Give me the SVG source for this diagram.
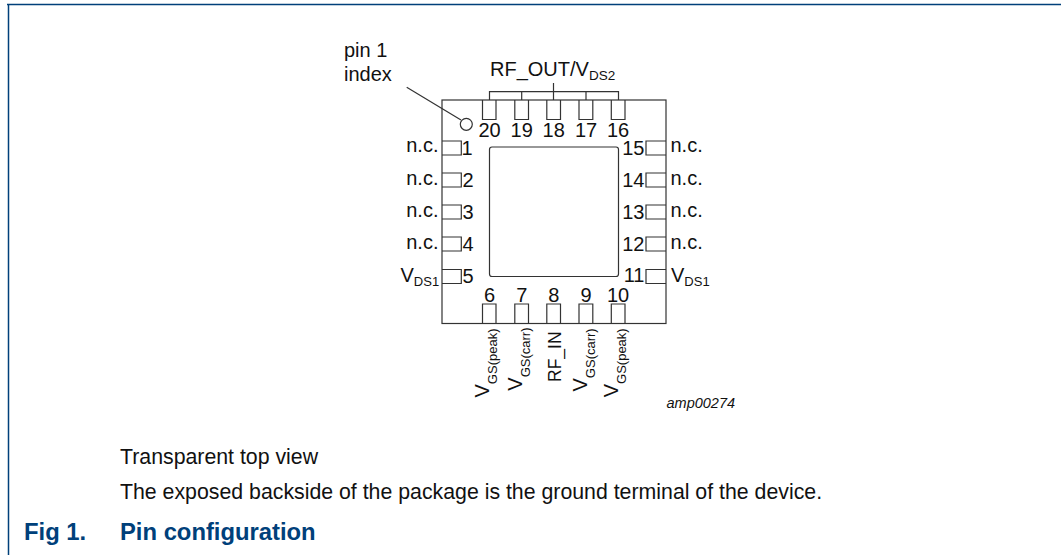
<svg xmlns="http://www.w3.org/2000/svg" width="1061" height="555" viewBox="0 0 1061 555">
<style>
text{font-family:"Liberation Sans",Arial,sans-serif;fill:#111}
.l{font-size:20px}
.s{font-size:13.500px}
.t{font-size:13px}
.m{text-anchor:middle}
.e{text-anchor:end}
.b{fill:none;stroke:#333;stroke-width:1.2}
.cap{font-size:21.300px}
.h{font-size:23.800px;font-weight:bold;fill:#00407a}
</style>
<rect width="1061" height="555" fill="#fff"/>
<path id="frame" d="M8.500 4V555M7 4.500H1061" fill="none" stroke="#00407a" stroke-width="1.500"/>
<g id="package"><rect class="b" x="442" y="100" width="224" height="223.500"/><rect class="b" x="489.500" y="147" width="129" height="129.500" rx="2.500"/><circle class="b" cx="466.300" cy="124.300" r="6"/></g>
<g id="connectors"><path class="b" d="M489.500 100V91.700H618.500V100M521.700 91.700V100M553.500 83V100M586 91.700V100M406.700 87.300L461 120"/></g>
<g id="pin20"><path class="b" d="M482.500 100V119.500H496V100"/><text class="l m" x="489.500" y="137">20</text></g>
<g id="pin19"><path class="b" d="M514.800 100V119.500H528.500V100"/><text class="l m" x="521.700" y="137">19</text></g>
<g id="pin18"><path class="b" d="M546.800 100V119.500H560.500V100"/><text class="l m" x="553.700" y="137">18</text></g>
<g id="pin17"><path class="b" d="M579 100V119.500H592.800V100"/><text class="l m" x="586" y="137">17</text></g>
<g id="pin16"><path class="b" d="M611.300 100V119.500H625V100"/><text class="l m" x="618" y="137">16</text></g>
<g id="pin1"><path class="b" d="M442 141H461.300V155H442"/><text class="l" x="461.500" y="155">1</text><text class="l e" x="438.500" y="151.700">n.c.</text></g>
<g id="pin2"><path class="b" d="M442 173H461.300V187H442"/><text class="l" x="462.500" y="187">2</text><text class="l e" x="438.500" y="185">n.c.</text></g>
<g id="pin3"><path class="b" d="M442 205H461.300V219H442"/><text class="l" x="462.500" y="219">3</text><text class="l e" x="438.500" y="217">n.c.</text></g>
<g id="pin4"><path class="b" d="M442 237H461.300V251H442"/><text class="l" x="462.500" y="251">4</text><text class="l e" x="438.500" y="249.300">n.c.</text></g>
<g id="pin5"><path class="b" d="M442 269.500H461.300V283.500H442"/><text class="l" x="462.500" y="283">5</text><text class="l" x="400.500" y="281.700">V<tspan class="t" dy="4">DS1</tspan></text></g>
<g id="pin15"><path class="b" d="M666 141H646V155H666"/><text class="l e" x="644.500" y="155">15</text><text class="l" x="670.500" y="151.700">n.c.</text></g>
<g id="pin14"><path class="b" d="M666 173H646V187H666"/><text class="l e" x="644.500" y="187">14</text><text class="l" x="670.500" y="185">n.c.</text></g>
<g id="pin13"><path class="b" d="M666 205H646V219H666"/><text class="l e" x="644.500" y="219">13</text><text class="l" x="670.500" y="217">n.c.</text></g>
<g id="pin12"><path class="b" d="M666 237H646V251H666"/><text class="l e" x="644.500" y="251">12</text><text class="l" x="670.500" y="249.300">n.c.</text></g>
<g id="pin11"><path class="b" d="M666 269.500H646V283.500H666"/><text class="l e" x="644.500" y="282">11</text><text class="l" x="671" y="281.700">V<tspan class="t" dy="4">DS1</tspan></text></g>
<g id="pin6"><path class="b" d="M482.500 323.500V304H496V323.500"/><text class="l m" x="489.500" y="301.700">6</text><text class="l" transform="translate(489.300 397.500) rotate(-90)">V<tspan class="t" dy="8">GS(peak)</tspan></text></g>
<g id="pin7"><path class="b" d="M514.800 323.500V304H528.500V323.500"/><text class="l m" x="521.700" y="301.700">7</text><text class="l" transform="translate(522 390.700) rotate(-90)">V<tspan class="t" dy="8">GS(carr)</tspan></text></g>
<g id="pin8"><path class="b" d="M546.800 323.500V304H560.500V323.500"/><text class="l m" x="553.700" y="301.700">8</text><text transform="translate(561 382) rotate(-90)" font-size="17.500">RF_IN</text></g>
<g id="pin9"><path class="b" d="M579 323.500V304H592.800V323.500"/><text class="l m" x="586" y="301.700">9</text><text class="l" transform="translate(587.300 391.500) rotate(-90)">V<tspan class="t" dy="8">GS(carr)</tspan></text></g>
<g id="pin10"><path class="b" d="M611.300 323.500V304H625V323.500"/><text class="l m" x="618" y="301.700">10</text><text class="l" transform="translate(618.300 397.300) rotate(-90)">V<tspan class="t" dy="8">GS(peak)</tspan></text></g>
<text class="l" x="490" y="76">RF_OUT/V<tspan class="s" dy="4">DS2</tspan></text>
<text class="l" x="344" y="56.700">pin 1</text>
<text class="l" x="344" y="80.700">index</text>
<text x="666.500" y="408.300" font-size="14.500" font-style="italic">amp00274</text>
<text class="cap" x="120" y="464">Transparent top view</text>
<text class="cap" x="120" y="498.500">The exposed backside of the package is the ground terminal of the device.</text>
<text class="h" x="24" y="540">Fig 1.</text>
<text class="h" x="120" y="540">Pin configuration</text>
</svg>
